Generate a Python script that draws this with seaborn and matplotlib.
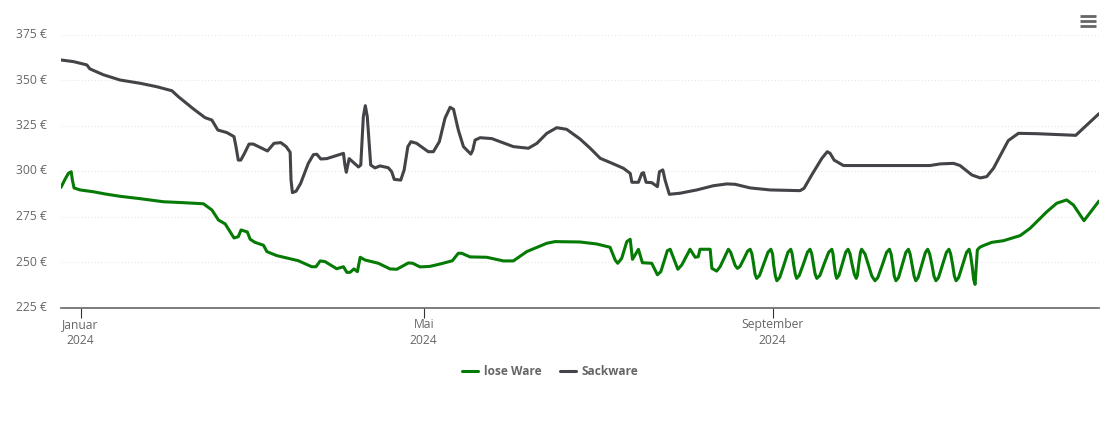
import pandas as pd
import matplotlib.pyplot as plt
from matplotlib.lines import Line2D
import seaborn as sns

sns.set_theme(style="white")
plt.rcParams["font.family"] = ["Open Sans", "DejaVu Sans"]

# Tage seit 1.1.2024 und Preis in Euro
lose_tage = [-6.9, -5.5, -4.3, -3.3, -2.9, -2.3, -0.2, 4.5, 8.6, 13.9, 21.0, 29.2, 36.2, 43.3, 46.3, 48.6,
             51.0, 52.7, 54.1, 55.6, 56.6, 58.8, 59.8, 61.5, 64.5, 65.7, 69.2, 76.8, 81.5, 83.0, 84.5, 86.2,
             90.3, 92.7, 93.9, 95.0, 96.4, 97.6, 98.6, 100.3, 105.0, 109.1, 111.5, 115.6, 117.1, 119.7, 123.2,
             126.8, 131.1, 133.2, 134.4, 137.3, 143.2, 149.1, 152.6, 157.3, 164.4, 167.3, 176.1, 182.0, 186.7,
             188.5, 189.4, 190.8, 192.6, 193.8, 194.6, 195.5, 196.7, 198.1, 201.4, 203.4, 204.6, 206.9, 207.9,
             210.6, 212.0, 214.9, 216.7, 217.8, 218.4, 222.0, 222.6, 224.3, 225.5,
             228.4, 229.2, 230.0, 230.8, 231.6, 232.5, 233.9, 235.2, 236.1,
             236.7, 237.3, 237.8, 238.4, 239.4, 240.9, 242.4, 243.4,
             244.0, 244.4, 245.0, 245.5, 246.5, 248.0, 249.4, 250.4,
             250.9, 251.4, 252.0, 252.5, 253.4, 254.9, 256.3, 257.2,
             257.8, 258.4, 259.0, 259.6, 260.7, 262.2, 263.8, 264.9,
             265.3, 265.7, 266.2, 266.6, 267.4, 268.6, 269.8, 270.6,
             271.3, 272.0, 272.8, 273.5, 273.9, 274.4, 275.0, 275.4,
             276.6, 277.8, 279.0, 280.1, 281.1, 282.7, 284.2, 285.2,
             285.8, 286.4, 286.9, 287.5, 288.4, 289.7, 291.0, 291.9,
             292.5, 293.2, 293.9, 294.5, 295.3, 296.6, 297.9, 298.7,
             299.4, 300.2, 300.9, 301.6, 302.5, 303.9, 305.3, 306.2,
             306.8, 307.5, 308.1, 308.7, 309.6, 311.0, 312.4, 313.3,
             313.8, 314.4, 314.9, 315.4, 315.8, 316.2, 317.0, 318.3, 321.3, 325.4, 331.3, 334.8,
             340.7, 344.2, 347.7, 350.1, 353.8, 359.1]
lose_preis = [291.0, 295.4, 298.7, 299.6, 295.1, 290.7, 289.6, 288.6, 287.4, 286.1, 284.8, 283.1, 282.6, 282.0, 278.6, 273.1,
              270.9, 266.7, 263.2, 263.9, 267.6, 266.5, 262.5, 260.8, 259.2, 255.7, 253.5, 250.7, 247.4, 247.4, 250.6, 250.2,
              246.3, 247.4, 244.3, 244.3, 246.2, 244.7, 252.6, 251.1, 249.3, 246.2, 246.0, 249.5, 249.3, 247.3, 247.6,
              248.9, 250.7, 254.8, 254.8, 252.8, 252.6, 250.6, 250.6, 255.7, 260.3, 261.2, 261.0, 259.9, 258.1,
              251.1, 249.3, 252.0, 261.2, 262.5, 251.5, 253.8, 257.0, 249.6, 249.3, 243.0, 244.7, 256.2, 257.0,
              246.0, 248.4, 257.0, 252.6, 252.9, 257.0, 257.0, 246.5, 245.0, 247.4,
              257.0, 255.4, 251.8, 248.1, 246.5, 247.5, 251.8, 256.0, 257.0,
              254.6, 249.0, 243.4, 241.0, 242.6, 249.0, 255.4, 257.0,
              254.4, 248.4, 242.3, 239.7, 241.4, 248.4, 255.3, 257.0,
              254.6, 249.0, 243.4, 241.0, 242.6, 249.0, 255.4, 257.0,
              254.6, 249.0, 243.4, 241.0, 242.6, 249.0, 255.4, 257.0,
              254.6, 249.0, 243.4, 241.0, 242.6, 249.0, 255.4, 257.0,
              254.6, 249.0, 243.4, 241.0, 242.6, 249.0, 255.4, 257.0,
              254.4, 248.4, 242.3, 239.7, 241.4, 248.4, 255.3, 257.0,
              254.4, 248.4, 242.3, 239.7, 241.4, 248.4, 255.3, 257.0,
              254.4, 248.4, 242.3, 239.7, 241.4, 248.4, 255.3, 257.0,
              254.4, 248.4, 242.3, 239.7, 241.4, 248.4, 255.3, 257.0,
              254.4, 248.4, 242.3, 239.7, 241.4, 248.4, 255.3, 257.0,
              254.1, 247.4, 240.4, 237.7, 247.0, 256.6, 258.0, 259.0, 260.8, 261.7, 264.5, 268.5,
              277.6, 282.3, 284.1, 281.3, 272.7, 283.5]

sack_tage = [-6.9, -2.5, 2.2, 3.3, 8.0, 13.9, 21.0, 26.9, 32.2, 34.5, 39.8, 43.9, 46.3, 48.4, 51.6, 54.1, 54.8, 55.6, 56.5,
             57.8, 59.4, 60.9, 65.9, 68.2, 70.6, 72.5, 73.9, 74.2, 74.7, 76.0, 77.6, 80.3, 82.1, 83.3, 84.7, 86.8, 92.7,
             93.2, 93.7, 94.7, 98.0, 98.8, 99.7, 100.4, 101.1, 102.3, 103.8, 105.6, 108.5, 109.7, 110.6, 112.9, 114.1,
             115.4, 116.5, 118.5, 122.6, 124.4, 126.5, 128.5, 130.3, 131.5, 133.2, 135.0, 137.6, 138.3, 139.1, 140.9,
             145.0, 152.6, 157.9, 160.9, 164.4, 167.9, 171.4, 176.1, 179.7, 183.2, 187.9, 191.4, 193.8, 194.4, 196.7,
             197.9, 198.5, 199.4, 201.4, 203.4, 204.1, 205.3, 206.1, 207.6, 211.4, 217.3, 223.1, 227.9, 230.8, 236.1,
             243.1, 253.7, 255.1, 257.8, 261.4, 263.3, 264.3, 265.7, 269.0, 299.5, 303.1, 307.8, 310.1, 314.3, 317.2,
             319.5, 321.9, 327.1, 330.7, 337.2, 350.9, 359.1]
sack_preis = [361.0, 360.1, 358.3, 356.1, 352.9, 350.0, 348.2, 346.3, 344.1, 340.8, 334.1, 329.3, 328.0, 322.5, 321.1, 318.9, 313.4, 306.0, 306.0,
              309.7, 314.8, 314.8, 311.0, 315.2, 315.6, 313.4, 310.3, 295.1, 288.1, 288.9, 293.2, 304.2, 309.0, 309.2, 306.6, 306.8, 309.7,
              303.3, 299.3, 306.8, 302.2, 303.3, 329.8, 335.9, 329.8, 303.3, 301.7, 302.8, 301.8, 299.6, 295.4, 295.0, 300.6,
              313.4, 316.1, 315.2, 310.6, 310.6, 316.1, 329.0, 335.0, 333.9, 322.5, 313.4, 309.3, 311.5, 317.0, 318.3,
              317.8, 313.4, 312.5, 315.2, 320.7, 323.8, 322.9, 317.6, 312.5, 307.0, 303.9, 301.5, 298.7, 293.8, 293.8,
              298.7, 299.1, 293.8, 293.6, 291.4, 299.6, 300.6, 295.0, 287.2, 287.8, 289.6, 291.9, 292.9, 292.7, 290.7,
              289.6, 289.2, 290.5, 297.8, 307.0, 310.6, 309.7, 306.0, 303.0, 303.0, 303.9, 304.2, 303.0, 297.8, 296.2,
              296.9, 301.5, 316.7, 320.7, 320.5, 319.6, 331.5]

preis_ticks = [225, 250, 275, 300, 325, 350, 375]
monat_ticks = ["2024-01-01", "2024-05-01", "2024-09-01"]
monat_labels = ["Januar\n2024", "Mai\n2024", "September\n2024"]

start = pd.Timestamp("2024-01-01")
df_lose = pd.DataFrame({"datum": start + pd.to_timedelta(lose_tage, unit="D"), "preis": lose_preis, "sorte": "lose Ware"})
df_sack = pd.DataFrame({"datum": start + pd.to_timedelta(sack_tage, unit="D"), "preis": sack_preis, "sorte": "Sackware"})
df = pd.concat([df_lose, df_sack], ignore_index=True)

W, H = 1110, 422
fig = plt.figure(figsize=(W / 100, H / 100), dpi=100)
ax = fig.add_axes([61 / W, 1 - 307.5 / H, 1038 / W, 273 / H])

sns.lineplot(data=df, x="datum", y="preis", hue="sorte", palette={"lose Ware": "#057a05", "Sackware": "#434348"},
             estimator=None, sort=False, linewidth=2.2, ax=ax, legend=False, solid_joinstyle="round", zorder=3)

ax.set_xlim(start + pd.Timedelta(days=-6.9), start + pd.Timedelta(days=359.1))
ax.set_ylim(225, 375)
ax.set_xlabel("")
ax.set_ylabel("")
ax.set_xticks(pd.to_datetime(monat_ticks))
ax.set_xticklabels(monat_labels, fontsize=8.7, color="#666666", linespacing=1.3)
ax.set_yticks(preis_ticks)
ax.set_yticklabels([f"{p} €" for p in preis_ticks], fontsize=8.7, color="#666666", va="center")
ax.tick_params(axis="x", length=7.2, width=0.8, color="#333333", pad=0.5, bottom=True)
ax.tick_params(axis="y", length=0, pad=10.2)
ax.yaxis.grid(True, linestyle=(0, (1, 2)), color="#e6e6e6", linewidth=0.8)
ax.set_axisbelow(True)
sns.despine(ax=ax, left=True)
ax.spines["bottom"].set_color("#666666")
ax.spines["bottom"].set_linewidth(1.2)

handles = [Line2D([], [], color="#057a05", linewidth=2.2), Line2D([], [], color="#434348", linewidth=2.2)]
leg = fig.legend(handles, ["lose Ware", "Sackware"], loc="center", bbox_to_anchor=(550.5 / W, 1 - 371.5 / H), ncol=2,
                 frameon=False, handlelength=1.3, handletextpad=0.5, columnspacing=1.6,
                 prop={"size": 8.6, "weight": "bold"})
for t in leg.get_texts():
    t.set_color("#666666")

# Menue-Symbol oben rechts
for y in [16, 21, 26]:
    fig.add_artist(Line2D([1080 / W, 1096 / W], [1 - y / H, 1 - y / H], color="#666666", linewidth=2.0, solid_capstyle="butt"))

fig.savefig("out.png", dpi=100)
